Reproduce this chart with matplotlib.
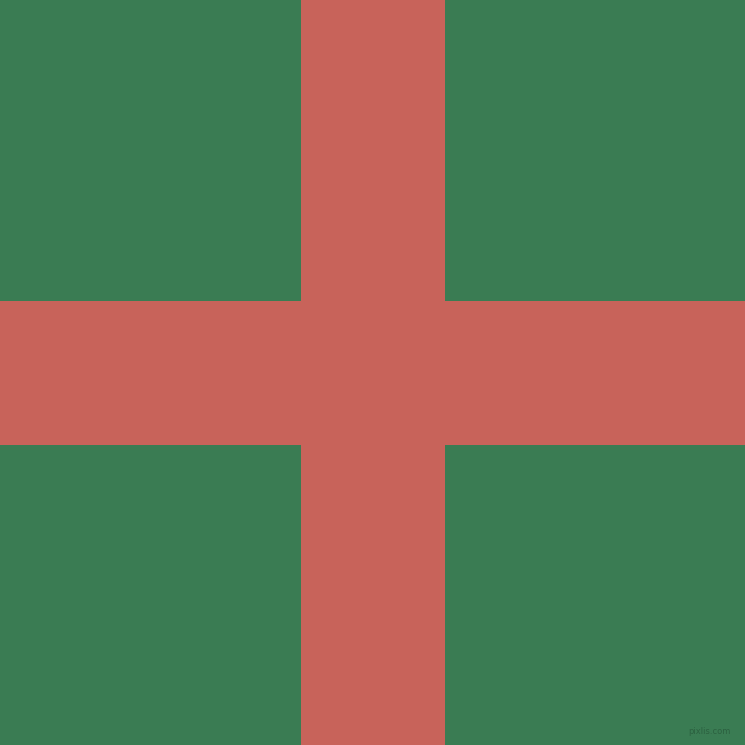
import matplotlib
matplotlib.use("Agg")
import matplotlib.pyplot as plt
from matplotlib.patches import Rectangle

# canvas and cross geometry (pixel units)
size = 745
band_start = [301, 301]   # vertical x, horizontal y
band_width = [144, 144]
background = "#3a7c53"
cross_color = "#c8635a"
watermark = "pixlis.com"

fig = plt.figure(figsize=(7.45, 7.45), dpi=100)
ax = fig.add_axes([0, 0, 1, 1])
ax.set_xlim(0, size)
ax.set_ylim(size, 0)
ax.axis("off")
ax.add_patch(Rectangle((0, 0), size, size, color=background, lw=0))

# vertical arm
ax.add_patch(Rectangle((band_start[0], 0), band_width[0], size, color=cross_color, lw=0))
# horizontal arm
ax.add_patch(Rectangle((0, band_start[1]), size, band_width[1], color=cross_color, lw=0))

ax.text(709, 731, watermark, fontsize=6, color="#2a5e3e", ha="center", va="center",
        family="DejaVu Sans", alpha=0.9)

fig.savefig("out.png", dpi=100)
